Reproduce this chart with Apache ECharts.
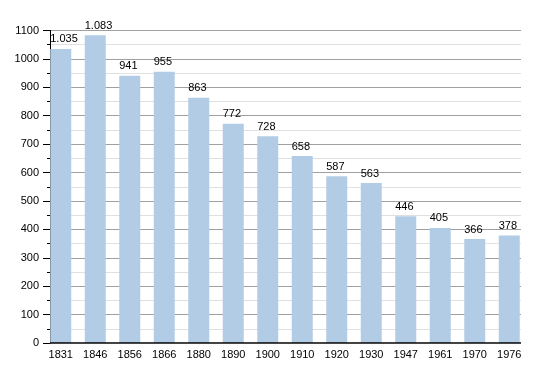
<!DOCTYPE html>
<html><head><meta charset="utf-8">
<script src="https://cdn.jsdelivr.net/npm/echarts@6/dist/echarts.min.js"></script>
<style>html,body{margin:0;padding:0;background:#fff}#c{width:550px;height:373px}</style>
</head><body><div id="c"></div>
<script>
const categories = ['1831','1846','1856','1866','1880','1890','1900','1910','1920','1930','1947','1961','1970','1976'];
const population = [1035,1083,941,955,863,772,728,658,587,563,446,405,366,378];
const yMin = 0, yMax = 1100, yStep = 100;

const fmt = v => { const s = String(v); return s.length > 3 ? s.slice(0, s.length-3) + '.' + s.slice(-3) : s; };
const font = 'Liberation Sans, Arial, sans-serif';
const chart = echarts.init(document.getElementById('c'), null, {renderer:'canvas'});
chart.setOption({
  animation:false,
  grid:[
    {left:50, right:29, top:30.5, bottom:30, containLabel:false},
    {left:43.5, right:23.5, top:30.5, bottom:30, containLabel:false}
  ],
  xAxis:[
    {gridIndex:0, type:'value', min:0, max:1, show:true, axisLine:{show:false}, axisTick:{show:false}, axisLabel:{show:false}, splitLine:{show:false}},
    {gridIndex:1, type:'category', data:categories, boundaryGap:true,
     axisLine:{show:false}, axisTick:{show:false},
     axisLabel:{color:'#000', fontFamily:font, fontSize:11, margin:6}}
  ],
  yAxis:[
    {gridIndex:0, type:'value', min:yMin, max:yMax, interval:yStep,
     axisLine:{show:true, lineStyle:{color:'#000', width:1}},
     axisTick:{show:true, length:7, lineStyle:{color:'#000'}},
     minorTick:{show:true, splitNumber:2, length:3, lineStyle:{color:'#000'}},
     axisLabel:{color:'#000', fontFamily:font, fontSize:11, margin:11, formatter:v=>String(v)},
     splitLine:{show:true, lineStyle:{color:'#a0a0a0', width:1}},
     minorSplitLine:{show:true, lineStyle:{color:'#e0e0e0', width:1}}},
    {gridIndex:1, type:'value', min:yMin, max:yMax, interval:yStep, show:false}
  ],
  series:[
    {type:'bar', xAxisIndex:1, yAxisIndex:1, data:population, barWidth:21, z:3,
     itemStyle:{color:'#b3cce5'},
     label:{show:true, position:'top', distance:4, align:'left', offset:[-10.5,0], color:'#000', fontFamily:font, fontSize:11, formatter:p=>fmt(p.value)}},
    {type:'line', xAxisIndex:0, yAxisIndex:0, data:[[0,0],[1,0]], symbol:'none', z:5,
     lineStyle:{color:'#000', width:1.5}, silent:true}
  ]
});
</script></body></html>
